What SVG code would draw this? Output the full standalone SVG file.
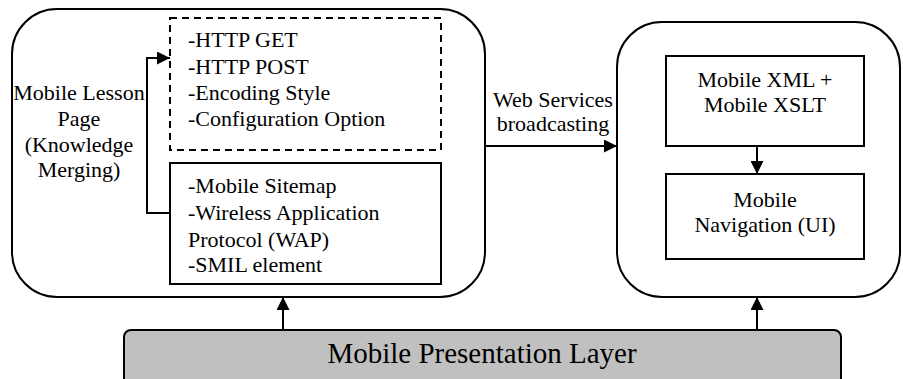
<svg xmlns="http://www.w3.org/2000/svg" width="903" height="379" viewBox="0 0 903 379">
  <style>
    .frame { fill: #ffffff; stroke: #000000; stroke-width: 2; }
    .box { fill: #ffffff; stroke: #000000; stroke-width: 2; }
    .dash { fill: #ffffff; stroke: #000000; stroke-width: 2; stroke-dasharray: 7 5; }
    .layer { fill: #c0c0c0; stroke: #000000; stroke-width: 2; }
    .link { fill: none; stroke: #000000; stroke-width: 2; }
    text { font-family: "Liberation Serif", "Times New Roman", serif; font-size: 22px; fill: #000000; }
    .mid { text-anchor: middle; }
    .big { font-size: 29px; }
  </style>
  <defs>
    <marker id="arrow" viewBox="0 0 10 10" refX="10" refY="5" markerWidth="7.5" markerHeight="6.5" markerUnits="strokeWidth" orient="auto">
      <path d="M0,0 L10,5 L0,10 Z" fill="#000000"/>
    </marker>
  </defs>

  <rect width="903" height="379" fill="#ffffff"/>

  <!-- presentation layer bar -->
  <g id="presentation-layer">
    <rect class="layer" x="124" y="330" width="717" height="70" rx="7"/>
    <text class="big mid" x="482" y="363">Mobile Presentation Layer</text>
  </g>

  <!-- left container -->
  <g id="lesson-page">
    <rect class="frame" x="12" y="9" width="473" height="288" rx="45"/>
    <text class="mid" x="79" y="100">Mobile Lesson</text>
    <text class="mid" x="79" y="126">Page</text>
    <text class="mid" x="79" y="152">(Knowledge</text>
    <text class="mid" x="79" y="177">Merging)</text>
  </g>

  <g id="web-service-options">
    <rect class="dash" x="170" y="18" width="271" height="132"/>
    <text x="188" y="47">-HTTP GET</text>
    <text x="188" y="74">-HTTP POST</text>
    <text x="188" y="100">-Encoding Style</text>
    <text x="188" y="126">-Configuration Option</text>
  </g>

  <g id="mobile-elements">
    <rect class="box" x="170" y="163" width="271" height="121"/>
    <text x="188" y="193">-Mobile Sitemap</text>
    <text x="188" y="220">-Wireless Application</text>
    <text x="188" y="247">Protocol (WAP)</text>
    <text x="188" y="272">-SMIL element</text>
  </g>

  <!-- right container -->
  <g id="mobile-client">
    <rect class="frame" x="617" y="22" width="283" height="275" rx="45"/>
  </g>

  <g id="mobile-xml">
    <rect class="box" x="666" y="56" width="198" height="90"/>
    <text class="mid" x="765" y="87">Mobile XML +</text>
    <text class="mid" x="765" y="112">Mobile XSLT</text>
  </g>

  <g id="mobile-navigation">
    <rect class="box" x="666" y="174" width="198" height="85"/>
    <text class="mid" x="765" y="207">Mobile</text>
    <text class="mid" x="765" y="232">Navigation (UI)</text>
  </g>

  <!-- connectors -->
  <g id="connectors">
    <polyline class="link" points="170,213 147,213 147,58 170,58" marker-end="url(#arrow)"/>
    <line class="link" x1="485" y1="146" x2="617" y2="146" marker-end="url(#arrow)"/>
    <line class="link" x1="757" y1="146" x2="757" y2="174" marker-end="url(#arrow)"/>
    <line class="link" x1="283" y1="330" x2="283" y2="297" marker-end="url(#arrow)"/>
    <line class="link" x1="757" y1="330" x2="757" y2="297" marker-end="url(#arrow)"/>
    <text class="mid" x="553" y="107">Web Services</text>
    <text class="mid" x="553" y="131">broadcasting</text>
  </g>
</svg>
